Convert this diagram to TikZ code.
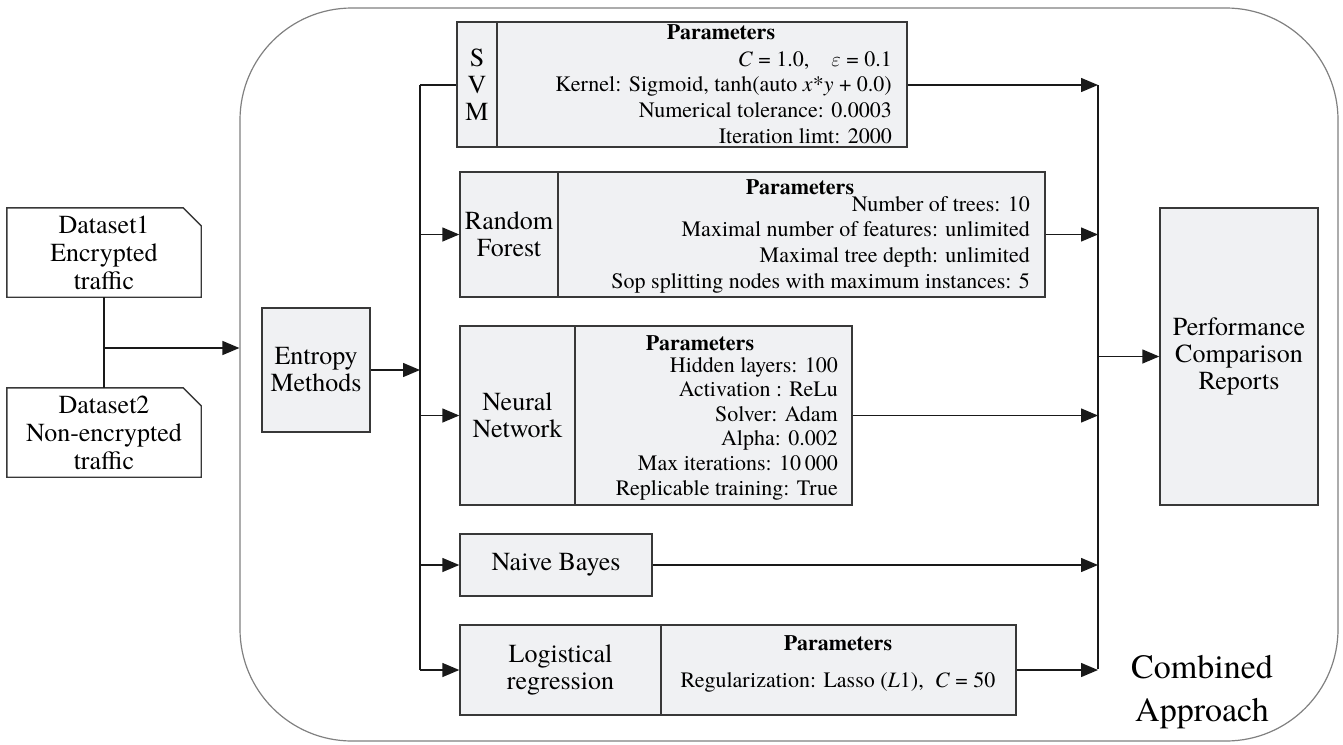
\documentclass[tikz,border=0pt]{standalone}
\usepackage{fontspec}
\IfFontExistsTF{texgyretermes-regular.otf}
  {\setmainfont{texgyretermes}[Extension=.otf,UprightFont=*-regular,BoldFont=*-bold,ItalicFont=*-italic,BoldItalicFont=*-bolditalic]}
  {\setmainfont{Liberation Serif}}
\usetikzlibrary{arrows.meta,calc}
\definecolor{boxfill}{HTML}{F0F1F3}
\definecolor{boxline}{HTML}{383838}
\definecolor{outerline}{HTML}{808080}
\tikzset{
  box/.style={draw=boxline, fill=boxfill, line width=1.4pt, inner sep=0pt, align=center,
    font=\fontsize{26}{27}\selectfont},
  databox/.style={inner sep=0pt, align=center, font=\fontsize{26}{28}\selectfont},
  params/.style={inner sep=0pt, align=right, anchor=east, font=\fontsize{22}{25.7}\selectfont},
  ptitle/.style={inner sep=0pt, font=\fontsize{22}{25}\selectfont\bfseries},
  conn/.style={line width=1.4pt, draw=black!90},
  arr/.style={conn, -{Triangle[length=17pt,width=14pt]}},
}
\begin{document}
\begin{tikzpicture}[x=1pt,y=-1pt]
\useasboundingbox (0,0) rectangle (1343,744);
% outer frame
\node[draw=outerline, line width=1.2pt, rounded corners=112pt, minimum width=1098pt, minimum height=733pt, inner sep=0pt] (outer) at (789,374.5) {};
% datasets
\node[databox, minimum width=194pt, minimum height=89pt] (d1) at (104,252.5) {Dataset1\\Encrypted\\traffic};
\node[databox, minimum width=194pt, minimum height=89pt] (d2) at (104,432.5) {Dataset2\\Non-encrypted\\traffic};
\foreach \d in {d1,d2}{
  \draw[draw=boxline, line width=1.4pt] (\d.north west) -- ([xshift=-18pt]\d.north east) -- ([yshift=-18pt]\d.north east) -- (\d.south east) -- (\d.south west) -- cycle;
}
\coordinate (j1) at (104,348);
\draw[conn] (d1.south) -- (d2.north);
\draw[arr] (j1) -- (j1 -| outer.west);
% entropy
\node[box, minimum width=108pt, minimum height=124pt] (ent) at (316,370) {Entropy\\Methods};
\coordinate (lbtop) at (420,85);
\coordinate (lbbot) at (420,670);
\draw[arr] (ent.east) -- (ent.east -| lbtop);
\draw[conn] (lbtop) -- (lbbot);
% SVM
\node[box, minimum width=40pt, minimum height=125pt, font=\fontsize{26}{27}\selectfont] (svml) at (477,84.5) {S\\V\\M};
\node[box, minimum width=410pt, minimum height=125pt] (svmr) at (702,84.5) {};
\node[ptitle] (svmp) at (721,32) {Parameters};
\node[params] (svmt) at (892,97.5) {\textit{C} = 1.0,\quad $\varepsilon$ = 0.1\\Kernel: Sigmoid, tanh(auto \textit{x}*\textit{y} + 0.0)\\Numerical tolerance: 0.0003\\Iteration limt: 2000};
% Random forest
\node[box, minimum width=98pt, minimum height=125pt] (rfl) at (509,234.5) {Random\\Forest};
\node[box, minimum width=487pt, minimum height=125pt] (rfr) at (801.5,234.5) {};
\node[ptitle] (rfp) at (800,187) {Parameters};
\node[params] (rft) at (1030,244.5) {Number of trees: 10\\Maximal number of features: unlimited\\Maximal tree depth: unlimited\\Sop splitting nodes with maximum instances: 5};
% Neural network
\node[box, minimum width=115pt, minimum height=179pt] (nnl) at (517.5,415.5) {Neural\\Network};
\node[box, minimum width=277pt, minimum height=179pt] (nnr) at (713.5,415.5) {};
\node[ptitle] (nnp) at (700,343) {Parameters};
\node[params, font=\fontsize{22}{24.6}\selectfont] (nnt) at (838,428.5) {Hidden layers: 100\\Activation : ReLu\\Solver: Adam\\Alpha: 0.002\\Max iterations: 10\,000\\Replicable training: True};
% Naive Bayes
\node[box, minimum width=192pt, minimum height=62pt] (nb) at (556,565) {Naive Bayes};
% Logistic regression
\node[box, minimum width=201pt, minimum height=90pt] (lrl) at (560.5,670) {Logistical\\regression};
\node[box, minimum width=355pt, minimum height=90pt] (lrr) at (838.5,670) {};
\node[ptitle] (lrp) at (838,643) {Parameters};
\node[inner sep=0pt, font=\fontsize{22}{25}\selectfont] (lrt) at (838,682) {Regularization: Lasso (\textit{L}1),\ \ \textit{C} = 50};
% left bus to classifiers
\draw[conn] (lbtop) -- (svml.west |- lbtop);
\draw[arr] (lbtop |- rfl.west) -- (rfl.west);
\draw[arr] (lbtop |- nnl.west) -- (nnl.west);
\draw[arr] (lbtop |- nb.west) -- (nb.west);
\draw[arr] (lbbot) -- (lrl.west);
% right bus
\coordinate (rbtop) at (1098,85);
\coordinate (rbbot) at (1098,669);
\draw[conn] (rbtop) -- (rbbot);
\draw[arr] (svmr.east |- rbtop) -- (rbtop);
\draw[arr] (rfr.east) -- (rfr.east -| rbtop);
\draw[arr] (nnr.east) -- (nnr.east -| rbtop);
\draw[arr] (nb.east) -- (nb.east -| rbtop);
\draw[arr] (lrr.east) -- (lrr.east -| rbtop);
% performance
\node[box, minimum width=158pt, minimum height=297pt] (perf) at (1239,356.5) {Performance\\Comparison\\Reports};
\draw[arr] (perf.west -| rbtop) -- (perf.west);
% label
\node[inner sep=0pt, align=center, font=\fontsize{34}{43}\selectfont] (comb) at (1202,692) {Combined\\Approach};
\end{tikzpicture}
\end{document}
